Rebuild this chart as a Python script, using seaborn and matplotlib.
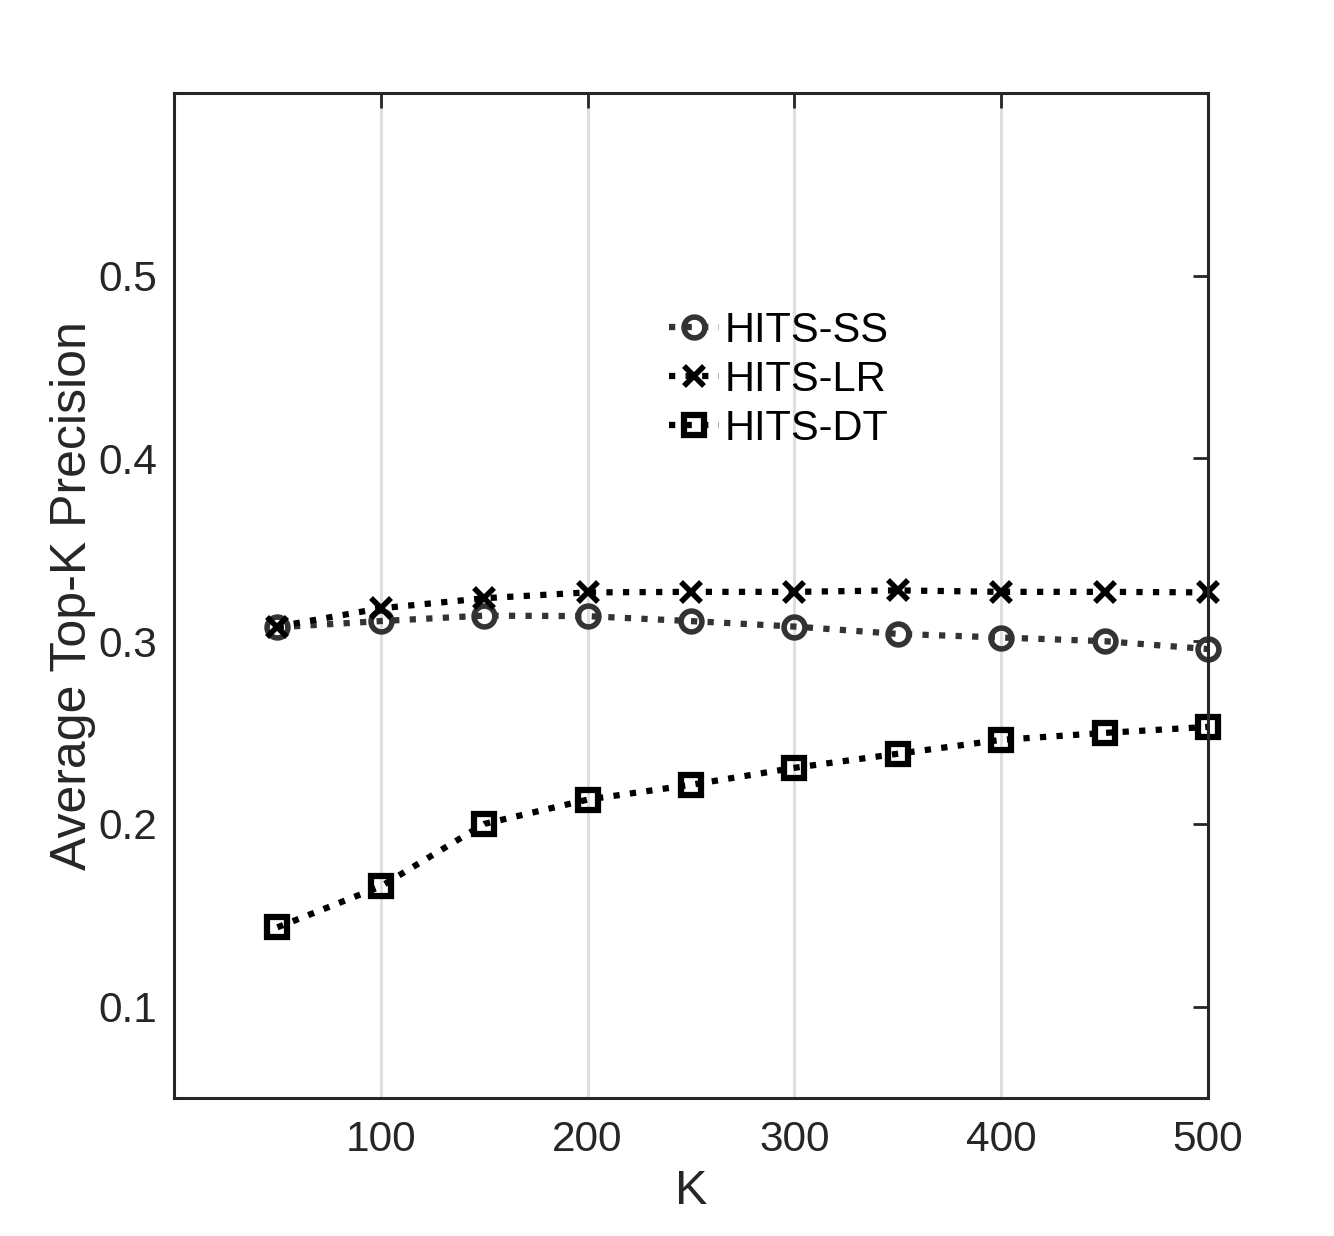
import matplotlib
matplotlib.use("Agg")
import matplotlib.pyplot as plt
import seaborn as sns
import pandas as pd

K = [50, 100, 150, 200, 250, 300, 350, 400, 450, 500]
hits_ss = [0.3076, 0.311, 0.314, 0.3137, 0.311, 0.308, 0.304, 0.302, 0.300, 0.2957]
hits_lr = [0.308, 0.318, 0.3235, 0.3267, 0.327, 0.327, 0.3278, 0.327, 0.327, 0.3267]
hits_dt = [0.1434, 0.1658, 0.200, 0.2133, 0.2214, 0.2307, 0.2384, 0.246, 0.2498, 0.2531]
series_names = ["HITS-SS", "HITS-LR", "HITS-DT"]
x_ticks = [100, 200, 300, 400, 500]
y_ticks = [0.1, 0.2, 0.3, 0.4, 0.5]

sns.set_style("white")
plt.rcParams['font.family'] = ['Liberation Sans', 'DejaVu Sans']
txt = '#262626'

df = pd.DataFrame({
    "K": K * 3,
    "val": hits_ss + hits_lr + hits_dt,
    "method": [series_names[0]] * len(K) + [series_names[1]] * len(K) + [series_names[2]] * len(K),
})

fig = plt.figure(figsize=(13.34, 12.36), dpi=100)
ax = fig.add_axes([174/1334, 1 - 1098/1236, (1208-174)/1334, (1098-93)/1236])

styles = {
    "HITS-SS": dict(color='#333333', marker='o', ms=15, mfc='none', mew=4),
    "HITS-LR": dict(color='black', marker='x', ms=14, mew=4),
    "HITS-DT": dict(color='black', marker='s', ms=14, mfc='none', mew=4.5),
}
for name in series_names:
    sub = df[df["method"] == name]
    st = styles[name]
    sns.lineplot(data=sub, x="K", y="val", ax=ax, label=name, color=st['color'],
                 linestyle=':', linewidth=4.5, marker=st['marker'], markersize=st['ms'],
                 markerfacecolor=st.get('mfc', st['color']), markeredgecolor=st['color'],
                 markeredgewidth=st['mew'], clip_on=False)

ax.set_xlim(0, 500)
ax.set_ylim(0.05, 0.6)
ax.set_xticks(x_ticks)
ax.set_yticks(y_ticks)
ax.set_xticklabels([str(v) for v in x_ticks])
ax.set_yticklabels([f"{v:.1f}" for v in y_ticks])
ax.xaxis.grid(True, color='#dddddd', linewidth=2)
ax.yaxis.grid(False)
ax.set_axisbelow(True)
ax.tick_params(axis='both', direction='in', length=11, width=2, colors=txt,
               labelsize=30.5, top=True, right=True)
ax.tick_params(axis='x', pad=16)
ax.tick_params(axis='y', pad=12)
for s in ax.spines.values():
    s.set_color(txt)
    s.set_linewidth(2.2)
ax.set_xlabel("K", fontsize=35, color=txt, labelpad=6)
ax.set_ylabel("Average Top-K Precision", fontsize=36, color=txt, labelpad=2)

leg = ax.legend(loc='upper left', bbox_to_anchor=((652-174)/1034, 1 - (294-93)/1005),
                frameon=False, fontsize=30, handlelength=1.2, handletextpad=0.15,
                labelspacing=0.22, borderaxespad=0)
for t in leg.get_texts():
    t.set_color('black')

fig.savefig("out.png", dpi=100)
